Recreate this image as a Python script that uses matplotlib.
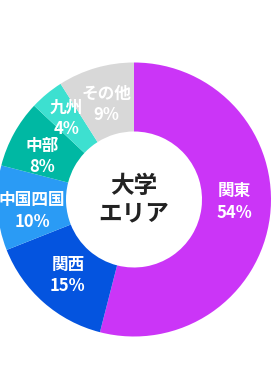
import matplotlib
matplotlib.use("Agg")
import matplotlib.pyplot as plt
import numpy as np

labels = ["関東", "関西", "中国四国", "中部", "九州", "その他"]
values = [54, 15, 10, 8, 4, 9]
colors = ["#CB35F7", "#0454DF", "#2A9BF5", "#00B8A3", "#3DE0D0", "#D8D8D8"]
center_text = "大学\nエリア"

# small per-label nudges (pixels) for label placement
label_nudge = [(1, 10), (0, -1), (-2, -5), (-4, -5), (-4, 4), (0, -1)]

plt.rcParams['font.family'] = ['Noto Sans CJK JP', 'DejaVu Sans']

W, H = 280, 372
fig = plt.figure(figsize=(W / 100, H / 100), dpi=100)
cx, cy, R = 134, 372 - 199.5, 137
ax = fig.add_axes([(cx - R) / W, (cy - R) / H, 2 * R / W, 2 * R / H])

wedges, _ = ax.pie(values, colors=colors, startangle=90, counterclock=False,
                   radius=1, wedgeprops=dict(width=1 - 68 / 137, linewidth=0))
ax.set_xlim(-1, 1)
ax.set_ylim(-1, 1)
ax.set_aspect('equal')
ax.axis('off')

total = sum(values)
start = 90.0
for lab, v, nd in zip(labels, values, label_nudge):
    ang = start - v / total * 360 / 2
    start -= v / total * 360
    r = 0.73
    x, y = r * np.cos(np.radians(ang)), r * np.sin(np.radians(ang))
    ax.annotate(f"{lab}\n{v}%", xy=(x, y), xytext=nd, textcoords='offset pixels',
                ha='center', va='center', color='white',
                fontsize=12, fontweight='bold', linespacing=1.25)

ax.text(0, 0, center_text, ha='center', va='center', color='#222222',
        fontsize=17, fontweight='bold', linespacing=1.15)

fig.savefig("out.png", dpi=100)
